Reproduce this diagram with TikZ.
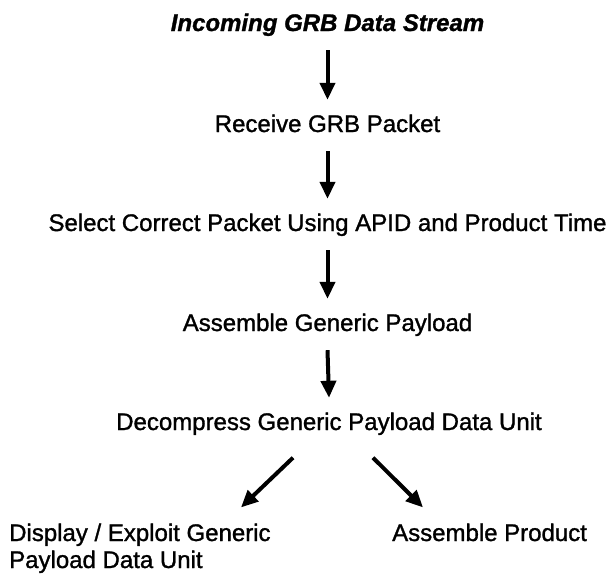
\documentclass[tikz,border=0pt]{standalone}
\usepackage{fontspec}
\setmainfont{Liberation Sans}[FakeBold=1.2]
\usetikzlibrary{arrows.meta,calc}
\begin{document}
\begin{tikzpicture}[x=1pt,y=-1pt,
  txt/.style={font=\fontsize{24}{27}\selectfont},
  lbl/.style={txt,inner xsep=0pt,inner ysep=14pt,text height=18pt,text depth=5pt},
  arr/.style={line width=4pt,-{Triangle[width=15pt,length=17pt]}}]
\useasboundingbox[fill=white] (0,0) rectangle (613,582);
\node[lbl,anchor=base,font=\fontsize{24}{27}\selectfont\bfseries\itshape] (t) at (327.5,31) {Incoming GRB Data Stream};
\node[lbl,anchor=base] (r) at (327.5,132) {Receive GRB Packet};
\node[lbl,anchor=base] (s) at (327.5,231) {Select Correct Packet Using APID and Product Time};
\node[lbl,anchor=base] (a) at (327.5,331) {Assemble Generic Payload};
\node[lbl,anchor=base] (d) at (329,430) {Decompress Generic Payload Data Unit};
\node[txt,anchor=base west,inner sep=0pt,align=left] (x) at (9,568) {Display / Exploit Generic\\Payload Data Unit};
\node[txt,anchor=base west,inner sep=0pt] (p) at (392,541) {Assemble Product};
\draw[arr] (t.south) -- (r.north);
\draw[arr] (r.south) -- (s.north);
\draw[arr] (s.south) -- (a.north);
\draw[arr] (a.south) -- (d.north);
\draw[arr] ($(d.south)+(-36,8.5)$) -- ($(x.north west)+(232,-16)$);
\draw[arr] ($(d.south)+(44,8.5)$) -- ($(p.north west)+(31,-16)$);
\end{tikzpicture}
\end{document}
